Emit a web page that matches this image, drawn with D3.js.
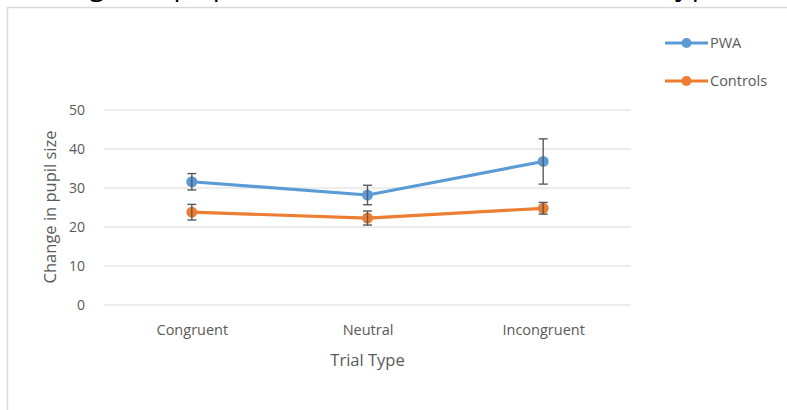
<!DOCTYPE html>
<html>
<head>
<meta charset="utf-8">
<script src="https://cdnjs.cloudflare.com/ajax/libs/d3/7.8.5/d3.min.js"></script>
<style>
  body { margin: 0; background: #fff; }
  svg { display: block; font-family: "Open Sans", sans-serif; }
</style>
</head>
<body>
<svg id="chart" width="787" height="410"></svg>
<script>
// categories and series
const trialTypes = ["Congruent", "Neutral", "Incongruent"];
const seriesNames = ["PWA", "Controls"];
const seriesColors = ["#5b9bd5", "#ed7d31"];
const pwaMeans = [31.6, 28.2, 36.8];
const pwaErrors = [2.1, 2.5, 5.8];
const controlMeans = [23.8, 22.3, 24.8];
const controlErrors = [2.0, 1.8, 1.5];
const yTicks = [0, 10, 20, 30, 40, 50];

const svg = d3.select("#chart");

// title, mostly cut off above the frame in the reference
svg.append("text")
	.attr("x", 12)
	.attr("y", -5.5)
	.attr("textLength", 715)
	.attr("lengthAdjust", "spacing")
	.style("font-size", "28px")
	.style("fill", "#000")
	.text("Change in pupil size as a function of Trial Type");

// chart frame
svg.append("rect")
	.attr("x", 7.5)
	.attr("y", 7.5)
	.attr("width", 820)
	.attr("height", 430)
	.attr("fill", "none")
	.attr("stroke", "#d9d9d9")
	.attr("stroke-width", 1.5);

const x = d3.scalePoint()
	.domain(trialTypes)
	.range([104, 631])
	.padding(0.5);

const y = d3.scaleLinear()
	.domain([0, 50])
	.range([305, 110]);

// gridlines
svg.append("g")
	.selectAll("line")
	.data(yTicks)
	.enter()
	.append("line")
	.attr("x1", 104)
	.attr("x2", 631)
	.attr("y1", d => y(d))
	.attr("y2", d => y(d))
	.attr("stroke", "#d9d9d9")
	.attr("stroke-width", 1.2);

// y axis labels
const yAxis = svg.append("g")
	.attr("transform", "translate(85,0)")
	.call(d3.axisLeft(y).tickValues(yTicks).tickSize(0).tickPadding(0));
yAxis.select(".domain").remove();
yAxis.selectAll("text")
	.style("font-family", "'Open Sans', sans-serif")
	.style("font-size", "14px")
	.style("fill", "#595959");

// x axis labels
const xAxis = svg.append("g")
	.attr("transform", "translate(0,325)")
	.call(d3.axisBottom(x).tickSize(0).tickPadding(0));
xAxis.select(".domain").remove();
xAxis.selectAll("text")
	.style("font-family", "'Open Sans', sans-serif")
	.style("font-size", "14.5px")
	.style("fill", "#595959");

// axis titles
svg.append("text")
	.attr("x", (104 + 631) / 2)
	.attr("y", 366)
	.attr("text-anchor", "middle")
	.style("font-size", "16.5px")
	.style("fill", "#595959")
	.text("Trial Type");

svg.append("text")
	.attr("transform", "translate(56,207) rotate(-90)")
	.attr("text-anchor", "middle")
	.style("font-size", "16.5px")
	.style("fill", "#595959")
	.text("Change in pupil size");

const series = [
	{ name: seriesNames[0], color: seriesColors[0], means: pwaMeans, errs: pwaErrors },
	{ name: seriesNames[1], color: seriesColors[1], means: controlMeans, errs: controlErrors }
];

const line = d3.line()
	.x((d, i) => x(trialTypes[i]))
	.y(d => y(d));

// draw controls first so PWA sits on top
series.slice().reverse().forEach(s => {
	const g = svg.append("g");
	g.append("path")
		.datum(s.means)
		.attr("d", line)
		.attr("fill", "none")
		.attr("stroke", s.color)
		.attr("stroke-width", 3.2)
		.attr("stroke-linejoin", "round");

	const pts = s.means.map((m, i) => ({ cat: trialTypes[i], m: m, e: s.errs[i] }));

	g.selectAll("circle")
		.data(pts)
		.enter()
		.append("circle")
		.attr("cx", d => x(d.cat))
		.attr("cy", d => y(d.m))
		.attr("r", 5.5)
		.attr("fill", s.color);

	const eb = g.selectAll("g.err")
		.data(pts)
		.enter()
		.append("g")
		.attr("class", "err")
		.attr("stroke", "#595959")
		.attr("stroke-width", 1.4);
	eb.append("line")
		.attr("x1", d => x(d.cat)).attr("x2", d => x(d.cat))
		.attr("y1", d => y(d.m + d.e)).attr("y2", d => y(d.m - d.e));
	eb.append("line")
		.attr("x1", d => x(d.cat) - 4.5).attr("x2", d => x(d.cat) + 4.5)
		.attr("y1", d => y(d.m + d.e)).attr("y2", d => y(d.m + d.e));
	eb.append("line")
		.attr("x1", d => x(d.cat) - 4.5).attr("x2", d => x(d.cat) + 4.5)
		.attr("y1", d => y(d.m - d.e)).attr("y2", d => y(d.m - d.e));
});

// legend
const legend = svg.append("g")
	.selectAll("g")
	.data(series)
	.enter()
	.append("g")
	.attr("transform", (d, i) => "translate(665," + (43 + i * 38) + ")");
legend.append("line")
	.attr("x1", 0).attr("x2", 43)
	.attr("stroke", d => d.color)
	.attr("stroke-width", 3);
legend.append("circle")
	.attr("cx", 21.5)
	.attr("r", 5)
	.attr("fill", d => d.color);
legend.append("text")
	.attr("x", 45)
	.attr("y", 5)
	.style("font-size", "14.5px")
	.style("fill", "#595959")
	.text(d => d.name);
</script>
</body>
</html>
